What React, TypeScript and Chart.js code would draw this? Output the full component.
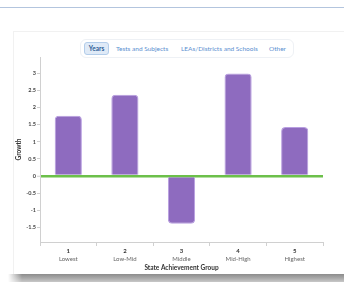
import React, { useEffect, useRef } from "react";
import { Chart, registerables } from "chart.js";

Chart.register(...registerables);

const groupNumbers = ["1", "2", "3", "4", "5"];
const groupNames = ["Lowest", "Low-Mid", "Middle", "Mid-High", "Highest"];
const growthValues = [1.76, 2.37, -1.39, 2.99, 1.43];
const tabLabels = ["Years", "Tests and Subjects", "LEAs/Districts and Schools", "Other"];
const tabLefts = [84, 116, 181, 269];

export default function App() {
  const ref = useRef<HTMLCanvasElement | null>(null);

  useEffect(() => {
    if (!ref.current) return;
    const chart = new Chart(ref.current, {
      type: "bar",
      data: {
        labels: groupNumbers,
        datasets: [
          {
            data: growthValues,
            backgroundColor: "#8e6bbf",
            borderColor: "#b89ee0",
            borderWidth: 1,
            borderRadius: 4,
            borderSkipped: "start",
            categoryPercentage: 0.8,
            barPercentage: 0.6,
            xAxisID: "x",
          },
        ],
      },
      options: {
        responsive: false,
        animation: false,
        devicePixelRatio: 1,
        layout: { padding: { left: 0, right: 13, top: 7, bottom: 0 } },
        plugins: { legend: { display: false }, tooltip: { enabled: false } },
        scales: {
          x: {
            type: "category",
            position: "bottom",
            weight: 0,
            offset: true,
            border: { display: true, color: "#d0d0d0", width: 1 },
            grid: {
              display: true,
              offset: true,
              drawOnChartArea: false,
              tickLength: 4,
              color: "#d0d0d0",
            },
            ticks: {
              padding: 1,
              color: "#333",
              font: { family: "Lato", size: 6, weight: "bold" },
              maxRotation: 0,
            },
            afterFit: (s: any) => {
              s.height = 12;
            },
          },
          x2: {
            type: "category",
            labels: groupNames,
            position: "bottom",
            weight: 1,
            offset: true,
            border: { display: false },
            grid: { display: false, drawTicks: false, tickLength: 0 },
            ticks: {
              padding: 1,
              color: "#666",
              font: { family: "Lato", size: 6 },
              maxRotation: 0,
            },
            title: {
              display: true,
              text: "State Achievement Group",
              color: "#333",
              font: { family: "Lato", size: 6.5, weight: "bold" },
              padding: { top: 0, bottom: 0 },
            },
            afterFit: (s: any) => {
              s.height = 18;
            },
          },
          y: {
            min: -1.92,
            max: 3.47,
            border: { display: true, color: "#d0d0d0", width: 1 },
            grid: {
              display: true,
              drawOnChartArea: true,
              tickLength: 3,
              color: (ctx: any) =>
                ctx.tick && ctx.tick.value === 0 ? "#6cc04a" : "rgba(0,0,0,0)",
              lineWidth: (ctx: any) => (ctx.tick && ctx.tick.value === 0 ? 2.5 : 1),
              tickColor: "#d0d0d0",
              tickWidth: 1,
            },
            ticks: {
              stepSize: 0.5,
              includeBounds: false,
              padding: 1,
              color: "#444",
              font: { family: "Lato", size: 5.5, weight: "bold" },
              callback: (v: any) => {
                const n = Math.round(Number(v) * 10) / 10;
                return String(n);
              },
            },
            title: {
              display: true,
              text: "Growth",
              color: "#333",
              font: { family: "Lato", size: 6.5, weight: "bold" },
              padding: { top: 1, bottom: 0 },
            },
            afterFit: (s: any) => {
              s.width = 26;
            },
          },
        },
      },
    });
    return () => chart.destroy();
  }, []);

  return (
    <div
      style={{
        position: "fixed",
        left: 0,
        top: 0,
        width: 344,
        height: 282,
        overflow: "hidden",
        background: "#fff",
        fontFamily: "Lato, sans-serif",
      }}
    >
      <div
        style={{
          position: "absolute",
          left: 0,
          top: 7,
          width: 344,
          height: 1,
          background: "#b3c5de",
        }}
      />
      <div
        style={{
          position: "absolute",
          left: 8,
          top: 274,
          width: 336,
          height: 8,
          background:
            "linear-gradient(to right, rgba(255,255,255,1) 0px, rgba(255,255,255,0) 14px), linear-gradient(to bottom, #8c8c8c, #a8a8a8 50%, #c8c8c8)",
        }}
      />
      <div
        style={{
          position: "absolute",
          left: 13,
          top: 31,
          width: 331,
          height: 243,
          borderLeft: "1px solid #f1f1f1",
          borderTop: "1px solid #f1f1f1",
          boxSizing: "border-box",
          background: "#fff",
        }}
      />
      <div
        style={{
          position: "absolute",
          left: 80,
          top: 39,
          width: 214,
          height: 19,
          border: "1px solid #eef1f5",
          borderRadius: 6,
          boxSizing: "border-box",
          background: "#fff",
        }}
      />
      <div
        style={{
          position: "absolute",
          left: 84,
          top: 42,
          width: 25,
          height: 13,
          border: "1px solid #b3cdea",
          borderRadius: 3,
          boxSizing: "border-box",
          background: "#dfeaf7",
        }}
      />
      {tabLabels.map((t, i) => (
        <span
          key={t}
          style={{
            position: "absolute",
            left: i === 0 ? 84 : tabLefts[i],
            width: i === 0 ? 25 : undefined,
            textAlign: i === 0 ? "center" : undefined,
            top: 44,
            fontSize: 6.5,
            lineHeight: "9px",
            whiteSpace: "nowrap",
            color: i === 0 ? "#2f5f98" : "#5b8fd0",
            fontWeight: i === 0 ? 700 : 400,
          }}
        >
          {t}
        </span>
      ))}
      <canvas
        ref={ref}
        width={322}
        height={222}
        style={{ position: "absolute", left: 14, top: 50, width: 322, height: 222 }}
      />
    </div>
  );
}
